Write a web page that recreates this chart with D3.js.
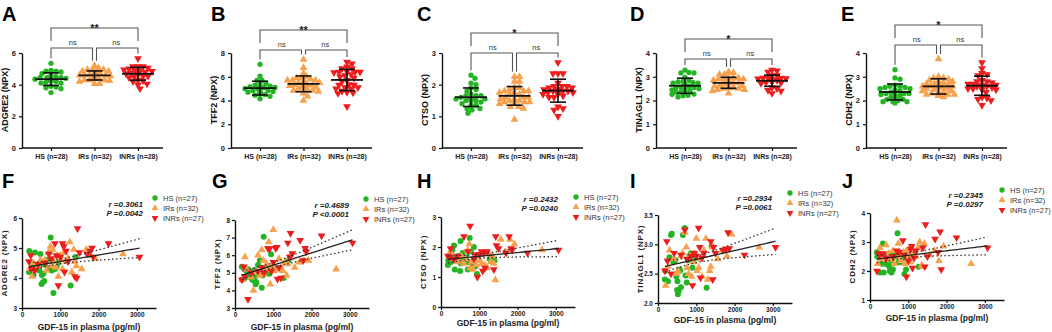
<!DOCTYPE html>
<html>
<head>
<meta charset="utf-8">
<script src="https://cdn.jsdelivr.net/npm/d3@7"></script>
<style>
body { margin: 0; background: #fff; }
svg { display: block; font-family: "Liberation Sans", Arial, sans-serif; }
</style>
</head>
<body>
<svg id="chart" width="1052" height="332"></svg>
<script>
// GDF-15 in plasma (pg/ml), one value per subject
var hsX   = [180,190,260,300,340,360,400,450,480,500,510,520,540,560,580,600,650,700,720,750,780,820,860,900,940,1270,1400];
var irsX  = [200,260,300,420,480,520,600,640,700,740,760,800,830,880,920,950,1000,1020,1060,1100,1150,1200,1250,1300,1350,1380,1420,1560,1680,1800,1920,2640];
var inrsX = [180,230,250,340,420,600,700,760,860,900,950,1000,1060,1090,1110,1150,1200,1380,1430,1450,1500,1700,1780,1830,1860,2260,3070];

// NPX values in the same subject order; the 28th HS / INRs value has no GDF-15
var adgre2Hs   = [4.2,4.9,4.4,4.1,4.85,4.45,4.3,4.25,4.8,4.45,3.8,4.1,3.85,4.15,3.9,4.45,4.6,4.3,4.85,5.35,4.25,3.5,4.3,4.35,4.5,3.75,4.7,4.35];
var adgre2Irs  = [4.3,4.05,4.5,4.4,4.6,4.5,4.6,4.25,4.85,5.05,4.4,4.95,4.55,4.35,4.75,4.05,4.75,4.6,4.3,4.85,4.55,4.65,5.2,4.2,4.95,4.55,4.4,4.3,4.95,4.75,4.65,4.8];
var adgre2Inrs = [4.55,4.75,4.3,4.25,4.45,4.5,4.8,4.65,5.15,4.75,3.75,4.7,5.15,5.05,4.2,4.9,4.55,4.05,4.0,5.65,4.85,4.8,4.9,5.0,4.7,5.15,4.7,4.95];

var tff2Hs   = [5.35,4.6,4.7,5.1,5.2,4.85,4.75,4.6,5.0,5.15,4.7,4.5,4.35,4.45,4.9,5.45,5.7,4.15,4.85,7.05,5.1,5.3,5.0,4.95,6.05,4.7,5.7,5.0];
var tff2Irs  = [4.6,5.9,5.2,4.75,4.0,5.0,6.0,4.85,6.3,5.7,4.9,5.2,5.5,6.75,4.35,5.3,7.45,5.1,5.25,5.2,5.8,5.3,5.1,5.6,4.85,5.5,5.9,5.3,5.6,5.7,5.7,5.2];
var tff2Inrs = [4.6,5.35,4.8,3.5,5.0,5.1,5.3,5.0,6.4,6.35,5.1,5.6,6.4,6.45,4.65,5.3,4.7,6.7,5.9,7.25,6.1,6.85,5.7,6.4,6.2,7.1,6.7,6.0];

var ctsoHs   = [1.4,1.55,1.5,1.9,2.05,1.25,1.65,1.7,1.55,1.2,2.2,1.45,1.5,1.8,1.5,1.55,1.65,1.25,1.5,2.3,1.85,1.35,2.0,1.35,1.1,1.6,1.55,1.65];
var ctsoIrs  = [1.75,1.8,1.6,1.5,1.55,1.7,1.45,1.6,1.9,2.1,1.3,1.5,1.25,1.6,1.4,1.7,1.75,1.55,1.45,1.8,1.4,1.3,1.8,1.5,1.7,1.45,0.9,2.25,1.85,2.25,2.1,1.9];
var ctsoInrs = [1.7,1.65,1.95,1.6,1.7,2.35,1.85,2.7,1.6,1.75,1.0,1.75,1.85,1.2,1.8,1.3,1.85,1.25,2.35,2.05,1.95,1.8,2.35,1.95,1.9,1.8,1.9,1.8];

var tinagl1Hs   = [2.4,2.55,2.37,2.78,3.16,3.18,2.7,2.73,2.45,2.22,2.37,2.15,2.2,2.57,2.55,2.27,3.16,3.28,2.47,2.35,2.73,2.8,2.85,2.6,2.75,2.26,2.97,2.5];
var tinagl1Irs  = [2.3,2.62,2.9,2.75,2.5,2.55,2.8,2.85,3.2,2.95,2.6,2.5,2.8,2.45,2.7,2.85,3.1,2.55,2.6,2.75,2.45,2.9,3.1,2.4,2.55,2.62,2.95,2.75,2.9,2.8,3.17,2.95];
var tinagl1Inrs = [2.55,3.05,2.72,2.5,2.85,2.82,3.25,2.75,2.8,2.3,2.85,2.8,3.28,2.95,2.43,2.77,2.85,3.05,2.4,2.95,2.85,2.9,2.92,3.2,2.93,2.82,2.95,2.8];

var cdh2Hs   = [2.65,2.5,1.95,2.25,2.95,1.95,2.25,2.55,2.2,2.4,2.15,2.0,2.6,1.95,2.35,2.05,2.5,2.6,3.3,2.3,2.3,2.55,2.45,1.9,2.05,2.15,2.9,2.3];
var cdh2Irs  = [2.25,2.8,2.4,2.9,2.6,2.4,2.7,2.25,3.75,2.95,2.5,2.35,2.6,2.65,2.25,2.7,2.45,2.75,2.3,2.55,2.6,2.5,2.8,3.0,2.2,2.15,2.95,2.55,2.7,2.35,2.85,2.25];
var cdh2Inrs = [2.0,2.6,2.55,2.6,2.45,2.5,2.7,2.65,3.05,2.55,1.8,2.35,2.75,2.85,2.1,2.45,2.7,2.8,2.15,3.6,2.5,3.1,2.65,3.35,2.05,3.15,2.8,2.6];

var markers      = ["ADGRE2", "TFF2", "CTSO", "TINAGL1", "CDH2"];
var groupNames   = ["HS", "IRs", "INRs"];
var dotLabels    = ["HS (n=28)", "IRs (n=32)", "INRs (n=28)"];
var legendLabels = ["HS (n=27)", "IRs (n=32)", "INRs (n=27)"];
var overallSig   = ["**", "**", "*", "*", "*"];
var pairSig      = ["ns", "ns"];
var rText        = ["r =0.3061", "r =0.4689", "r =0.2432", "r =0.2934", "r =0.2345"];
var pText        = ["P =0.0042", "P <0.0001", "P =0.0240", "P =0.0061", "P =0.0297"];
var topLetters   = ["A", "B", "C", "D", "E"];
var botLetters   = ["F", "G", "H", "I", "J"];

var values = [
  [adgre2Hs, adgre2Irs, adgre2Inrs],
  [tff2Hs, tff2Irs, tff2Inrs],
  [ctsoHs, ctsoIrs, ctsoInrs],
  [tinagl1Hs, tinagl1Irs, tinagl1Inrs],
  [cdh2Hs, cdh2Irs, cdh2Inrs]
];
var gdf = [hsX, irsX, inrsX];
var colors = ["#23b323", "#f8a04c", "#ee1c1c"];

// layout of the dot plots (top row)
var topAxisX   = [22, 231, 442, 656, 866];
var topLetterX = [2, 211, 417, 630, 841];
var topMax     = [6, 8, 3, 4, 4];
var topStep    = [2, 2, 1, 1, 1];
var bracketY   = [48, 50, 53, 59, 45];

// layout of the scatter plots (bottom row)
var botAxisX   = [22, 235, 441, 658, 870];
var botLetterX = [2, 212, 417, 630, 842];
var botTop     = [218, 220, 217, 215, 213];
var botBottom  = [308, 308, 307, 303, 300];
var botDomain  = [[3, 6], [3, 8], [0, 3], [2, 3.5], [1, 4]];
var botStep    = [1, 1, 1, 0.5, 1];
var statRight  = [143, 349, 558, 772, 983];
var statY      = [207, 208, 202, 201, 198];
var legX       = [155, 366, 576, 790, 1002];
var legY       = [198, 199, 197, 193, 190];
var titleY     = [330, 330, 326, 323, 321];

var svg = d3.select("#chart");

function symbolPath(g, size) {
  return d3.symbol().type(g === 0 ? d3.symbolCircle : d3.symbolTriangle).size(size)();
}
function placeSymbol(sel, g, size) {
  sel.attr("d", symbolPath(g, size))
    .attr("fill", colors[g]);
}
function styleAxis(a) {
  a.selectAll(".domain").attr("stroke", "#111").attr("stroke-width", 1.4);
  a.selectAll(".tick line").attr("stroke", "#111").attr("stroke-width", 1.2);
  a.selectAll("text").attr("fill", "#222").attr("font-size", 7.5).attr("font-weight", "bold")
    .attr("font-family", "\"Liberation Sans\", Arial, sans-serif");
}

// simple beeswarm: push each point sideways until it does not collide
function swarm(vals, y, r, maxW) {
  var pts = vals.map(function (v) { return {v: v, y: y(v), dx: 0}; });
  var order = pts.slice().sort(function (a, b) { return a.y - b.y; });
  var placed = [];
  var d = r * 1.7;
  order.forEach(function (p) {
    var chosen = 0;
    for (var k = 0; k <= maxW * 2; k++) {
      var off = (k % 2 ? 1 : -1) * Math.ceil(k / 2);
      var ok = placed.every(function (q) {
        var ddx = q.dx - off, ddy = q.y - p.y;
        return ddx * ddx + ddy * ddy >= d * d;
      });
      if (ok) { chosen = off; break; }
    }
    p.dx = chosen;
    placed.push(p);
  });
  return pts;
}

// ---------- top row: dot plots ----------
markers.forEach(function (m, i) {
  var ax = topAxisX[i];
  var g = svg.append("g");
  var y = d3.scaleLinear().domain([0, topMax[i]]).range([148, 53]);
  var x = d3.scalePoint().domain(groupNames).range([ax + 29, ax + 116]);

  g.append("text").attr("x", topLetterX[i]).attr("y", 21)
    .attr("font-size", 20).attr("font-weight", "bold").text(topLetters[i]);

  var yAxis = g.append("g").attr("transform", "translate(" + ax + ",0)")
    .call(d3.axisLeft(y).tickValues(d3.range(0, topMax[i] + 0.01, topStep[i])).tickFormat(d3.format("d"))
      .tickSize(3).tickSizeOuter(0).tickPadding(3));
  styleAxis(yAxis);

  g.append("line").attr("x1", ax).attr("x2", ax + 141).attr("y1", 148).attr("y2", 148)
    .attr("stroke", "#111").attr("stroke-width", 1.4);
  var xAxis = g.append("g").attr("transform", "translate(0,148)")
    .call(d3.axisBottom(x).tickSize(3).tickPadding(3).tickFormat(function (d, k) { return dotLabels[k]; }));
  xAxis.select(".domain").remove();
  styleAxis(xAxis);
  xAxis.selectAll("text").attr("font-size", 7);

  g.append("text").attr("transform", "translate(" + (ax - 14) + ",100) rotate(-90)")
    .attr("text-anchor", "middle").attr("font-size", 9).attr("font-weight", "bold").attr("fill", "#111")
    .text(m + " (NPX)");

  values[i].forEach(function (vals, k) {
    var cx = x(groupNames[k]);
    var pts = swarm(vals, y, 2.6, 16);
    g.append("g").selectAll("path").data(pts).enter().append("path")
      .attr("transform", function (p) { return "translate(" + (cx + p.dx) + "," + p.y + ")" + (k === 2 ? " rotate(180)" : ""); })
      .call(placeSymbol, k, k === 0 ? 22 : 26);

    var mean = d3.mean(vals), sd = d3.deviation(vals);
    var eb = g.append("g").attr("stroke", "#111").attr("stroke-width", 1.6);
    eb.append("line").attr("x1", cx - 16).attr("x2", cx + 16).attr("y1", y(mean)).attr("y2", y(mean)).attr("stroke-width", 1.8);
    eb.append("line").attr("x1", cx).attr("x2", cx).attr("y1", y(mean - sd)).attr("y2", y(mean + sd));
    eb.append("line").attr("x1", cx - 8).attr("x2", cx + 8).attr("y1", y(mean + sd)).attr("y2", y(mean + sd));
    eb.append("line").attr("x1", cx - 8).attr("x2", cx + 8).attr("y1", y(mean - sd)).attr("y2", y(mean - sd));
  });

  // significance brackets
  var by = bracketY[i], ty = by - 20;
  var legEnd = values[i].map(function (v) { return Math.max(by + 3, y(d3.max(v)) - 5); });
  var c0 = x("HS"), c1 = x("IRs"), c2 = x("INRs");
  var br = g.append("g").attr("fill", "none").attr("stroke", "#555").attr("stroke-width", 1.1);
  br.append("path").attr("d", "M" + c0 + "," + (by - 7) + "V" + ty + "H" + c2 + "V" + (by - 7));
  br.append("path").attr("d", "M" + c0 + "," + legEnd[0] + "V" + by + "H" + (c1 - 2) + "V" + legEnd[1]);
  br.append("path").attr("d", "M" + (c1 + 2) + "," + legEnd[1] + "V" + by + "H" + c2 + "V" + legEnd[2]);
  g.append("text").attr("x", (c0 + c2) / 2).attr("y", ty + 4).attr("text-anchor", "middle")
    .attr("font-size", 11).attr("font-weight", "bold").attr("fill", "#222").text(overallSig[i]);
  [[c0, c1], [c1, c2]].forEach(function (pr, k) {
    g.append("text").attr("x", (pr[0] + pr[1]) / 2).attr("y", by - 3).attr("text-anchor", "middle")
      .attr("font-size", 7.5).attr("fill", "#333").text(pairSig[k]);
  });
});

// ---------- bottom row: correlation with GDF-15 ----------
markers.forEach(function (m, i) {
  var ax = botAxisX[i];
  var g = svg.append("g");
  var x = d3.scaleLinear().domain([0, 3500]).range([ax, ax + 134]);
  var y = d3.scaleLinear().domain(botDomain[i]).range([botBottom[i], botTop[i]]);

  g.append("text").attr("x", botLetterX[i]).attr("y", 188)
    .attr("font-size", 20).attr("font-weight", "bold").text(botLetters[i]);

  var yAxis = g.append("g").attr("transform", "translate(" + ax + ",0)")
    .call(d3.axisLeft(y).tickValues(d3.range(botDomain[i][0], botDomain[i][1] + 0.01, botStep[i]))
      .tickFormat(d3.format(botStep[i] < 1 ? ".1f" : "d")).tickSize(3).tickSizeOuter(0).tickPadding(2));
  styleAxis(yAxis);
  yAxis.selectAll("text").attr("font-size", 6.5);
  var xAxis = g.append("g").attr("transform", "translate(0," + botBottom[i] + ")")
    .call(d3.axisBottom(x).tickValues([0, 1000, 2000, 3000]).tickFormat(d3.format("d"))
      .tickSize(3).tickSizeOuter(0).tickPadding(1));
  styleAxis(xAxis);
  xAxis.selectAll("text").attr("font-size", 6.5);

  g.append("text").attr("x", ax + 67).attr("y", titleY[i]).attr("text-anchor", "middle")
    .attr("font-size", 8.5).attr("font-weight", "bold").attr("fill", "#222").text("GDF-15 in plasma (pg/ml)");
  g.append("text").attr("transform", "translate(" + (ax - 15) + "," + ((botTop[i] + botBottom[i]) / 2) + ") rotate(-90)")
    .attr("text-anchor", "middle").attr("font-size", 8).attr("font-weight", "bold").attr("fill", "#222")
    .attr("letter-spacing", 0.8).text(m + " (NPX)");

  // points
  var all = [];
  gdf.forEach(function (xs, k) {
    var pts = xs.map(function (xv, j) { return {x: xv, y: values[i][k][j]}; });
    all = all.concat(pts);
    g.append("g").selectAll("path").data(pts).enter().append("path")
      .attr("transform", function (p) { return "translate(" + x(p.x) + "," + y(p.y) + ")" + (k === 2 ? " rotate(180)" : ""); })
      .call(placeSymbol, k, k === 0 ? 28 : 26);
  });

  // linear fit with 95% confidence band
  var n = all.length;
  var mx = d3.mean(all, function (p) { return p.x; }), my = d3.mean(all, function (p) { return p.y; });
  var sxx = d3.sum(all, function (p) { return (p.x - mx) * (p.x - mx); });
  var sxy = d3.sum(all, function (p) { return (p.x - mx) * (p.y - my); });
  var b = sxy / sxx, a = my - b * mx;
  var s = Math.sqrt(d3.sum(all, function (p) { var e = p.y - a - b * p.x; return e * e; }) / (n - 2));
  var xr = d3.extent(all, function (p) { return p.x; });
  var grid = d3.range(0, 41).map(function (t) { return xr[0] + (xr[1] - xr[0]) * t / 40; });
  function band(sign) {
    return grid.map(function (xv) {
      var se = s * Math.sqrt(1 / n + (xv - mx) * (xv - mx) / sxx);
      return [xv, a + b * xv + sign * 1.99 * se];
    });
  }
  var line = d3.line().x(function (d) { return x(d[0]); }).y(function (d) { return y(d[1]); });
  g.append("path").attr("d", line(band(0))).attr("fill", "none").attr("stroke", "#222").attr("stroke-width", 1.3);
  [1, -1].forEach(function (sg) {
    g.append("path").attr("d", line(band(sg))).attr("fill", "none").attr("stroke", "#333")
      .attr("stroke-width", 1.3).attr("stroke-dasharray", "1.5,2.5");
  });

  // statistics
  [rText[i], pText[i]].forEach(function (t, k) {
    g.append("text").attr("x", statRight[i]).attr("y", statY[i] + k * 9).attr("text-anchor", "end")
      .attr("font-size", 8).attr("font-weight", "bold").attr("font-style", "italic").attr("fill", "#222").text(t);
  });

  // legend
  legendLabels.forEach(function (l, k) {
    var ly = legY[i] + k * 10;
    g.append("path").attr("transform", "translate(" + legX[i] + "," + ly + ")" + (k === 2 ? " rotate(180)" : ""))
      .call(placeSymbol, k, k === 0 ? 22 : 20);
    g.append("text").attr("x", legX[i] + 8).attr("y", ly + 3).attr("font-size", 7.5).attr("fill", "#333").text(l);
  });
});
</script>
</body>
</html>
